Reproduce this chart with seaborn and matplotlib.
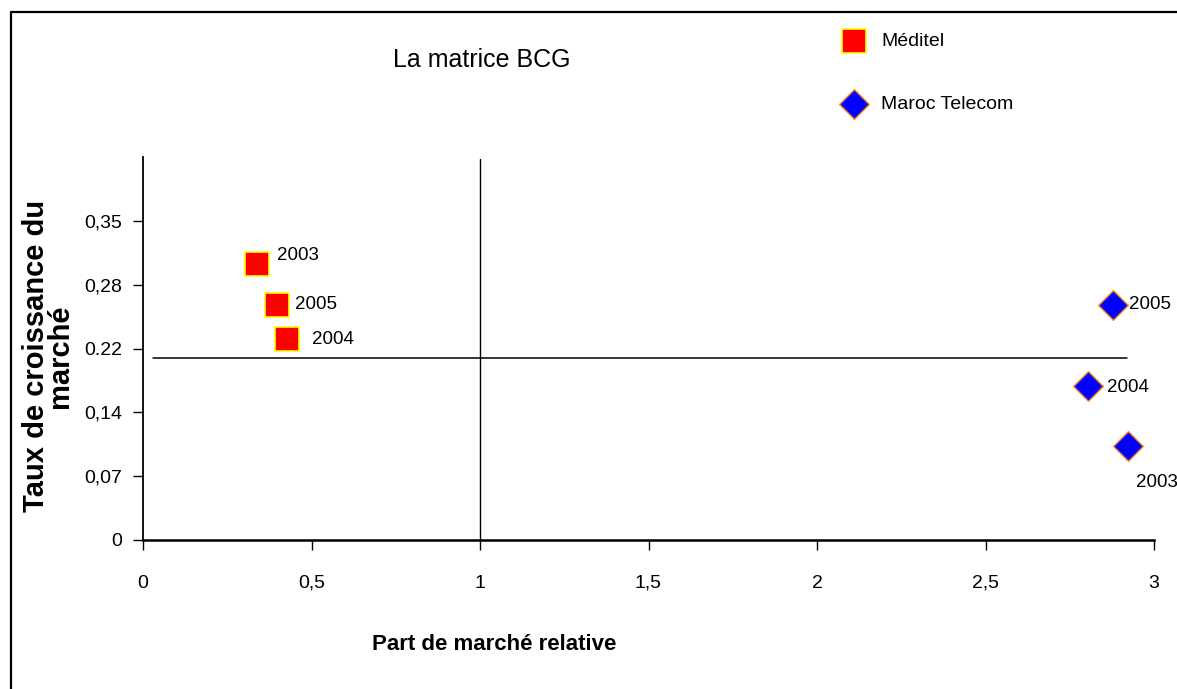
import matplotlib
matplotlib.use("Agg")
import matplotlib.pyplot as plt
from matplotlib.lines import Line2D
import pandas as pd
import seaborn as sns

# data
meditel_x = [0.337, 0.428, 0.397]
meditel_y = [0.303, 0.220, 0.258]
maroc_x = [2.922, 2.803, 2.879]
maroc_y = [0.103, 0.169, 0.258]
years = ["2003", "2004", "2005"]

x_ticks = [0, 0.5, 1, 1.5, 2, 2.5, 3]
x_tick_labels = ["0", "0,5", "1", "1,5", "2", "2,5", "3"]
y_ticks = [0, 0.07, 0.14, 0.21, 0.28, 0.35]
y_tick_labels = ["0", "0,07", "0,14", "0.22", "0,28", "0,35"]

growth_threshold = 0.20   # horizontal separator
share_threshold = 1       # vertical separator

# label offsets (points) for each year annotation
meditel_offsets = [(15, 6), (18, 0), (13, 0)]
maroc_offsets = [(6, -26), (14, -1), (11, 0)]

df = pd.DataFrame({
    "x": meditel_x + maroc_x,
    "y": meditel_y + maroc_y,
    "year": years + years,
    "serie": ["Méditel"] * 3 + ["Maroc Telecom"] * 3,
})

sns.set_theme(style="white")
FONT = ["Liberation Sans", "DejaVu Sans"]
plt.rcParams["font.family"] = FONT
plt.rcParams["text.color"] = "black"
plt.rcParams["xtick.color"] = "black"
plt.rcParams["ytick.color"] = "black"

fig = plt.figure(figsize=(11.77, 6.89), dpi=100)
ax = fig.add_axes([143 / 1177, 1 - 540 / 689, (1154 - 143) / 1177, (540 - 157) / 689])

med = df[df["serie"] == "Méditel"]
mt = df[df["serie"] == "Maroc Telecom"]
sns.scatterplot(data=med, x="x", y="y", marker="s", color="#ff0000", edgecolor="#ffff00",
                linewidth=1.2, s=300, ax=ax, label="Méditel", zorder=5)
sns.scatterplot(data=mt, x="x", y="y", marker="D", color="#0000ff", edgecolor="#ff8c1a",
                linewidth=1.0, s=230, ax=ax, label="Maroc Telecom", zorder=5)

for (_, r), off in zip(med.iterrows(), meditel_offsets):
    ax.annotate(r["year"], (r["x"], r["y"]), xytext=off, textcoords="offset points",
                ha="left", va="center", fontsize=13.5)
for (_, r), off in zip(mt.iterrows(), maroc_offsets):
    ax.annotate(r["year"], (r["x"], r["y"]), xytext=off, textcoords="offset points",
                ha="left", va="center", fontsize=13.5, annotation_clip=False)

ax.axhline(growth_threshold, xmin=0.03 / 3, xmax=2.92 / 3, color="black", lw=1.1)
ax.axvline(share_threshold, ymin=0, ymax=0.995, color="black", lw=1.0)

ax.set_xlim(0, 3)
ax.set_ylim(0, 0.42)
ax.set_xticks(x_ticks)
ax.set_xticklabels(x_tick_labels)
ax.set_yticks(y_ticks)
ax.set_yticklabels(y_tick_labels)
ax.tick_params(axis="x", direction="out", length=7, width=1, pad=18, labelsize=14, bottom=True)
ax.tick_params(axis="y", direction="out", length=7, width=1, pad=8, labelsize=14, left=True)
ax.set_xlabel("")
ax.set_ylabel("")
sns.despine(ax=ax)
ax.spines["left"].set_linewidth(1.3)
ax.spines["bottom"].set_linewidth(1.8)
ax.spines["left"].set_color("black")
ax.spines["bottom"].set_color("black")

ax.legend(loc="upper left", bbox_to_anchor=(825 / 1177, 1 - 23 / 689),
          bbox_transform=fig.transFigure, frameon=False, fontsize=14,
          labelspacing=2.3, handletextpad=0.4, borderpad=0, markerscale=1.0)

fig.text(482 / 1177, 1 - 60 / 689, "La matrice BCG", ha="center", va="center",
         fontsize=18)
fig.text(494 / 1177, 1 - 645 / 689, "Part de marché relative", ha="center", va="center",
         fontsize=16, fontweight="bold")
fig.text(48 / 1177, 1 - 356 / 689, "Taux de croissance du\nmarché", ha="center", va="center",
         rotation=90, fontsize=21, fontweight="bold", linespacing=0.82)

# outer chart frame (left and top edges visible)
fig.add_artist(Line2D([11 / 1177, 11 / 1177], [0, 1 - 12 / 689], transform=fig.transFigure,
                      color="black", lw=1.6))
fig.add_artist(Line2D([11 / 1177, 1], [1 - 12 / 689, 1 - 12 / 689], transform=fig.transFigure,
                      color="black", lw=1.6))

fig.savefig("out.png", dpi=100)
